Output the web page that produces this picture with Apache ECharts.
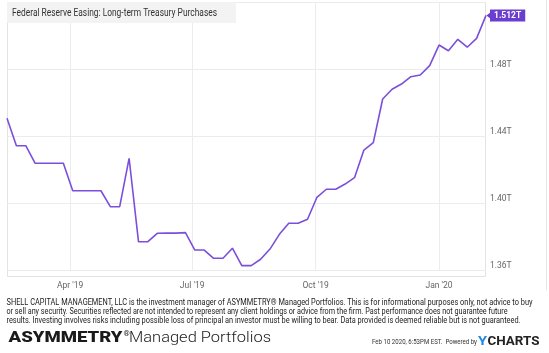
<!DOCTYPE html>
<html><head><meta charset="utf-8">
<script src="https://cdn.jsdelivr.net/npm/echarts@6/dist/echarts.min.js"></script>
<style>html,body{margin:0;padding:0;background:#fff}#c{width:549px;height:353px}</style>
</head><body><div id="c"></div>
<script>
const dates = ['2019-02-13','2019-02-20','2019-02-27','2019-03-06','2019-03-13','2019-03-20','2019-03-27',
'2019-04-03','2019-04-10','2019-04-17','2019-04-24','2019-05-01','2019-05-08','2019-05-15','2019-05-22','2019-05-29',
'2019-06-05','2019-06-12','2019-06-19','2019-06-26','2019-07-03','2019-07-10','2019-07-17','2019-07-24','2019-07-31',
'2019-08-07','2019-08-14','2019-08-21','2019-08-28','2019-09-04','2019-09-11','2019-09-18','2019-09-25',
'2019-10-02','2019-10-09','2019-10-16','2019-10-23','2019-10-30','2019-11-06','2019-11-13','2019-11-20','2019-11-27',
'2019-12-04','2019-12-11','2019-12-18','2019-12-25','2020-01-01','2020-01-08','2020-01-15','2020-01-22','2020-01-29','2020-02-05'];
const values = [1.4506,1.4342,1.4342,1.4237,1.4237,1.4237,1.4237,1.4073,1.4073,1.4073,1.4073,1.3978,1.3978,1.4267,
1.3769,1.3769,1.3819,1.3820,1.3820,1.3823,1.3719,1.3719,1.3670,1.3670,1.3730,1.3626,1.3626,1.3664,1.3725,1.3813,
1.3879,1.3879,1.3903,1.4034,1.4082,1.4082,1.4113,1.4151,1.4316,1.4360,1.4621,1.4679,1.4710,1.4754,1.4764,1.4820,
1.4943,1.4909,1.4977,1.4930,1.4983,1.512];
const xTickDates = ['2019-04-01','2019-07-01','2019-10-01','2020-01-01'];
const xTickLabels = ["Apr '19","Jul '19","Oct '19","Jan '20"];
const yTicks = [1.36,1.40,1.44,1.48,1.52];
const title = 'Federal Reserve Easing: Long-term Treasury Purchases';
const disclaimer = [
 'SHELL CAPITAL MANAGEMENT, LLC is the investment manager of ASYMMETRY\u00ae Managed Portfolios. This is for informational purposes only, not advice to buy',
 'or sell any security. Securities reflected are not intended to represent any client holdings or advice from the firm. Past performance does not guarantee future',
 'results. Investing involves risks including possible loss of principal an investor must be willing to bear. Data provided is deemed reliable but is not guaranteed.'
];
const stamp = 'Feb 10 2020, 6:53PM EST.  Powered by';

const ctx = document.createElement('canvas').getContext('2d');
function fit(txt, font, w){ ctx.font = font; return w / ctx.measureText(txt).width; }
function ftext(txt, x, y, font, w, fill, extra){
  return Object.assign({type:'text', x:x, y:y, scaleX: fit(txt, font, w),
    style:{text:txt, x:0, y:0, font:font, fill:fill, textAlign:'left', textVerticalAlign:'middle'}}, extra||{});
}
const LINE = '#7b4fdb';
const chart = echarts.init(document.getElementById('c'), null, {renderer:'canvas'});
const data = dates.map((d,i)=>[d, values[i]]);
const last = data[data.length-1];
const fDis = '8.5px Roboto';
chart.setOption({
  animation:false,
  grid:{left:7, right:63, top:2, bottom:83, containLabel:false},
  xAxis:{type:'time', min:dates[0], max:dates[dates.length-1],
    axisLine:{show:false}, axisTick:{show:false}, splitLine:{show:false},
    axisLabel:{show:false}},
  yAxis:{type:'value', position:'right', min:yTicks[0], max:yTicks[yTicks.length-1], interval:0.04,
    axisLine:{show:false}, axisTick:{show:false},
    splitLine:{lineStyle:{color:'#ececec', width:1}},
    axisLabel:{showMaxLabel:false, formatter:v=>v.toFixed(2)+'T', color:'#666', fontSize:8.5,
      fontFamily:'Roboto', verticalAlign:'bottom', margin:4}},
  series:[
   {type:'line', z:2, data:data, showSymbol:false, symbol:'none',
    lineStyle:{color:LINE, width:1.6}, itemStyle:{color:LINE},
    endLabel:{show:true, formatter:p=>p.value[1].toFixed(3)+'T', backgroundColor:'#6a3fcf', color:'#fff',
      fontWeight:'bold', fontSize:8.5, fontFamily:'Roboto', padding:[2,4,1,4], distance:4},
    markPoint:{silent:true, symbol:'triangle', symbolRotate:90, symbolSize:[8,5], symbolOffset:[3,0],
      itemStyle:{color:'#6a3fcf'}, label:{show:false}, data:[{coord:last}]},
    markLine:{silent:true, symbol:'none', animation:false, z:0, zlevel:0,
      lineStyle:{color:'#ececec', type:'solid', width:1},
      label:{show:true, position:'start', formatter:p=>xTickLabels[xTickDates.indexOf(p.data.name)],
        color:'#666', fontSize:8.5, fontFamily:'Roboto', distance:11},
      data:xTickDates.map(d=>({name:d, xAxis:d}))}
   }],
  graphic:[
    {type:'rect', shape:{x:7.5, y:2.5, width:478, height:274}, style:{fill:'none', stroke:'#e3e3e3', lineWidth:1}, z:-1},
    {type:'line', shape:{x1:546.5, y1:0, x2:546.5, y2:290}, style:{stroke:'#e6e6e6', lineWidth:1}},
    {type:'rect', shape:{x:7, y:2, width:229, height:21}, style:{fill:'#f3f3f3'}, z:5},
    Object.assign(ftext(title, 12, 13, '10px Roboto', 205, '#333'), {z:6}),
    ftext(disclaimer[0], 6.5, 303, fDis, 526, '#222'),
    ftext(disclaimer[1], 6.5, 312, fDis, 501, '#222'),
    ftext(disclaimer[2], 6.5, 321, fDis, 514, '#222'),
    ftext('ASYMMETRY', 8.5, 338.5, '900 14px Roboto', 114, '#1a1a1a'),
    {type:'text', x:123.5, y:334, style:{text:'\u00ae', font:'8px Roboto', fill:'#1a1a1a', textVerticalAlign:'middle'}},
    ftext('Managed Portfolios', 129, 338.5, '300 15px Roboto', 142, '#1a1a1a'),
    ftext(stamp, 372, 342, '6.5px Roboto', 105, '#333'),
    ftext('Y', 478, 342, 'bold 13px Roboto', 9, '#1e88e5'),
    ftext('CHARTS', 487.5, 342, 'bold 13px Roboto', 52, '#222')
  ]
});
</script></body></html>
